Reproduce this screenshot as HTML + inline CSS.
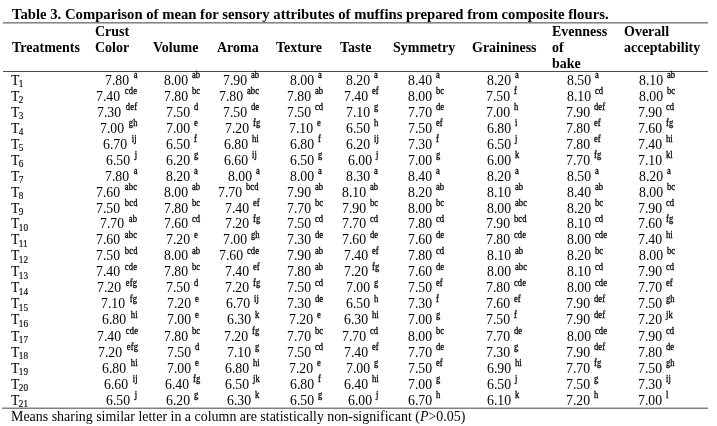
<!DOCTYPE html>
<html><head><meta charset="utf-8"><title>Table 3</title><style>
html,body{margin:0;padding:0;background:#fff;-webkit-font-smoothing:antialiased;}
body{filter:grayscale(1);}
body{width:717px;height:426px;overflow:hidden;position:relative;font-family:"Liberation Serif","Times New Roman",serif;color:#000;}
.c,.b{position:absolute;white-space:nowrap;line-height:1;transform-origin:0 0;}
.b{font-weight:bold;}
.c sup{display:inline-block;transform:scaleX(0.97);transform-origin:0 0;margin-left:0.6px;font-weight:normal;-webkit-text-stroke:0.3px;font-size:9.8px;letter-spacing:0.15px;vertical-align:baseline;position:relative;top:-7.0px;line-height:0;}
.sub{margin-left:-0.7px;-webkit-text-stroke:0.15px;font-size:10.2px;position:relative;top:2.0px;line-height:0;}
.r{position:absolute;left:2px;width:706px;}
</style></head>
<body>
<div class="b" style="left:11.60px;top:5.69px;font-size:15.3px;transform:scaleX(0.961)">Table 3. Comparison of mean for sensory attributes of muffins prepared from composite flours.</div>
<div class="r" style="left:3px;width:705px;top:22px;height:1px;background:#858585"></div>
<div class="r" style="left:3px;width:705px;top:23px;height:1px;background:#b8b8b8"></div>
<div class="r" style="left:3px;width:705px;top:71px;height:1px;background:#4c4c4c"></div>
<div class="r" style="top:407px;height:1px;background:#c0c0c0"></div>
<div class="r" style="top:408px;height:1px;background:#808080"></div>
<div class="b" style="left:12.00px;top:39.09px;font-size:15.3px;transform:scaleX(0.915)">Treatments</div>
<div class="b" style="left:95.30px;top:22.99px;font-size:15.3px;transform:scaleX(0.915)">Crust</div>
<div class="b" style="left:95.30px;top:39.09px;font-size:15.3px;transform:scaleX(0.915)">Color</div>
<div class="b" style="left:153.00px;top:39.09px;font-size:15.3px;transform:scaleX(0.915)">Volume</div>
<div class="b" style="left:216.60px;top:39.09px;font-size:15.3px;transform:scaleX(0.915)">Aroma</div>
<div class="b" style="left:276.30px;top:39.09px;font-size:15.3px;transform:scaleX(0.915)">Texture</div>
<div class="b" style="left:339.80px;top:39.09px;font-size:15.3px;transform:scaleX(0.915)">Taste</div>
<div class="b" style="left:393.20px;top:39.09px;font-size:15.3px;transform:scaleX(0.915)">Symmetry</div>
<div class="b" style="left:471.80px;top:39.09px;font-size:15.3px;transform:scaleX(0.915)">Graininess</div>
<div class="b" style="left:552.30px;top:22.99px;font-size:15.3px;transform:scaleX(0.915)">Evenness</div>
<div class="b" style="left:552.30px;top:39.09px;font-size:15.3px;transform:scaleX(0.915)">of</div>
<div class="b" style="left:552.30px;top:55.09px;font-size:15.3px;transform:scaleX(0.915)">bake</div>
<div class="b" style="left:623.50px;top:22.99px;font-size:15.3px;transform:scaleX(0.915)">Overall</div>
<div class="b" style="left:623.50px;top:39.09px;font-size:15.3px;transform:scaleX(0.915)">acceptability</div>
<div class="c" style="left:10.75px;top:72.19px;font-size:15.3px;transform:scaleX(0.9)">T<span class="sub">1</span></div>
<div class="c" style="left:10.75px;top:88.19px;font-size:15.3px;transform:scaleX(0.9)">T<span class="sub">2</span></div>
<div class="c" style="left:10.75px;top:104.19px;font-size:15.3px;transform:scaleX(0.9)">T<span class="sub">3</span></div>
<div class="c" style="left:10.75px;top:120.19px;font-size:15.3px;transform:scaleX(0.9)">T<span class="sub">4</span></div>
<div class="c" style="left:10.75px;top:136.19px;font-size:15.3px;transform:scaleX(0.9)">T<span class="sub">5</span></div>
<div class="c" style="left:10.75px;top:152.19px;font-size:15.3px;transform:scaleX(0.9)">T<span class="sub">6</span></div>
<div class="c" style="left:10.75px;top:168.19px;font-size:15.3px;transform:scaleX(0.9)">T<span class="sub">7</span></div>
<div class="c" style="left:10.75px;top:184.19px;font-size:15.3px;transform:scaleX(0.9)">T<span class="sub">8</span></div>
<div class="c" style="left:10.75px;top:200.19px;font-size:15.3px;transform:scaleX(0.9)">T<span class="sub">9</span></div>
<div class="c" style="left:10.75px;top:214.99px;font-size:15.3px;transform:scaleX(0.9)">T<span class="sub" style="top:3.20px">10</span></div>
<div class="c" style="left:10.75px;top:230.99px;font-size:15.3px;transform:scaleX(0.9)">T<span class="sub" style="top:3.20px">11</span></div>
<div class="c" style="left:10.75px;top:247.09px;font-size:15.3px;transform:scaleX(0.9)">T<span class="sub" style="top:3.10px">12</span></div>
<div class="c" style="left:10.75px;top:262.69px;font-size:15.3px;transform:scaleX(0.9)">T<span class="sub" style="top:3.50px">13</span></div>
<div class="c" style="left:10.75px;top:278.69px;font-size:15.3px;transform:scaleX(0.9)">T<span class="sub" style="top:3.50px">14</span></div>
<div class="c" style="left:10.75px;top:295.09px;font-size:15.3px;transform:scaleX(0.9)">T<span class="sub" style="top:3.10px">15</span></div>
<div class="c" style="left:10.75px;top:310.89px;font-size:15.3px;transform:scaleX(0.9)">T<span class="sub" style="top:3.30px">16</span></div>
<div class="c" style="left:10.75px;top:328.09px;font-size:15.3px;transform:scaleX(0.9)">T<span class="sub" style="top:2.10px">17</span></div>
<div class="c" style="left:10.75px;top:344.09px;font-size:15.3px;transform:scaleX(0.9)">T<span class="sub" style="top:2.10px">18</span></div>
<div class="c" style="left:10.75px;top:360.09px;font-size:15.3px;transform:scaleX(0.9)">T<span class="sub" style="top:2.10px">19</span></div>
<div class="c" style="left:10.75px;top:376.09px;font-size:15.3px;transform:scaleX(0.9)">T<span class="sub" style="top:2.10px">20</span></div>
<div class="c" style="left:10.75px;top:391.79px;font-size:15.3px;transform:scaleX(0.9)">T<span class="sub" style="top:2.40px">21</span></div>
<div class="c" style="left:104.59px;top:72.19px;font-size:15.3px;transform:scaleX(0.9)">7.80 <sup style="margin-left:1.4px">a</sup></div>
<div class="c" style="left:163.88px;top:72.19px;font-size:15.3px;transform:scaleX(0.9)">8.00 <sup>ab</sup></div>
<div class="c" style="left:223.39px;top:72.19px;font-size:15.3px;transform:scaleX(0.9)">7.90 <sup>ab</sup></div>
<div class="c" style="left:289.58px;top:72.19px;font-size:15.3px;transform:scaleX(0.9)">8.00 <sup>a</sup></div>
<div class="c" style="left:346.48px;top:72.19px;font-size:15.3px;transform:scaleX(0.9)">8.20 <sup>a</sup></div>
<div class="c" style="left:408.48px;top:72.19px;font-size:15.3px;transform:scaleX(0.9)">8.40 <sup>a</sup></div>
<div class="c" style="left:486.58px;top:72.19px;font-size:15.3px;transform:scaleX(0.9)">8.20 <sup>a</sup></div>
<div class="c" style="left:566.58px;top:72.19px;font-size:15.3px;transform:scaleX(0.9)">8.50 <sup>a</sup></div>
<div class="c" style="left:638.78px;top:72.19px;font-size:15.3px;transform:scaleX(0.9)">8.10 <sup>ab</sup></div>
<div class="c" style="left:96.29px;top:88.19px;font-size:15.3px;transform:scaleX(0.9)">7.40 <sup style="margin-left:1.4px">cde</sup></div>
<div class="c" style="left:163.99px;top:88.19px;font-size:15.3px;transform:scaleX(0.9)">7.80 <sup>bc</sup></div>
<div class="c" style="left:219.49px;top:88.19px;font-size:15.3px;transform:scaleX(0.9)">7.80 <sup>abc</sup></div>
<div class="c" style="left:286.69px;top:88.19px;font-size:15.3px;transform:scaleX(0.9)">7.80 <sup>ab</sup></div>
<div class="c" style="left:343.99px;top:88.19px;font-size:15.3px;transform:scaleX(0.9)">7.40 <sup>ef</sup></div>
<div class="c" style="left:408.48px;top:88.19px;font-size:15.3px;transform:scaleX(0.9)">8.00 <sup>bc</sup></div>
<div class="c" style="left:486.19px;top:88.19px;font-size:15.3px;transform:scaleX(0.9)">7.50 <sup>f</sup></div>
<div class="c" style="left:566.58px;top:88.19px;font-size:15.3px;transform:scaleX(0.9)">8.10 <sup>cd</sup></div>
<div class="c" style="left:638.78px;top:88.19px;font-size:15.3px;transform:scaleX(0.9)">8.00 <sup>bc</sup></div>
<div class="c" style="left:96.79px;top:104.19px;font-size:15.3px;transform:scaleX(0.9)">7.30 <sup style="margin-left:1.4px">def</sup></div>
<div class="c" style="left:166.09px;top:104.19px;font-size:15.3px;transform:scaleX(0.9)">7.50 <sup>d</sup></div>
<div class="c" style="left:223.39px;top:104.19px;font-size:15.3px;transform:scaleX(0.9)">7.50 <sup>de</sup></div>
<div class="c" style="left:286.69px;top:104.19px;font-size:15.3px;transform:scaleX(0.9)">7.50 <sup>cd</sup></div>
<div class="c" style="left:346.09px;top:104.19px;font-size:15.3px;transform:scaleX(0.9)">7.10 <sup>g</sup></div>
<div class="c" style="left:408.09px;top:104.19px;font-size:15.3px;transform:scaleX(0.9)">7.70 <sup>de</sup></div>
<div class="c" style="left:486.19px;top:104.19px;font-size:15.3px;transform:scaleX(0.9)">7.00 <sup>h</sup></div>
<div class="c" style="left:566.19px;top:104.19px;font-size:15.3px;transform:scaleX(0.9)">7.90 <sup>def</sup></div>
<div class="c" style="left:638.39px;top:104.19px;font-size:15.3px;transform:scaleX(0.9)">7.90 <sup>cd</sup></div>
<div class="c" style="left:99.89px;top:120.19px;font-size:15.3px;transform:scaleX(0.9)">7.00 <sup style="margin-left:1.4px">gh</sup></div>
<div class="c" style="left:166.09px;top:120.19px;font-size:15.3px;transform:scaleX(0.9)">7.00 <sup>e</sup></div>
<div class="c" style="left:224.69px;top:120.19px;font-size:15.3px;transform:scaleX(0.9)">7.20 <sup>fg</sup></div>
<div class="c" style="left:289.19px;top:120.19px;font-size:15.3px;transform:scaleX(0.9)">7.10 <sup>e</sup></div>
<div class="c" style="left:346.41px;top:120.19px;font-size:15.3px;transform:scaleX(0.9)">6.50 <sup>h</sup></div>
<div class="c" style="left:408.09px;top:120.19px;font-size:15.3px;transform:scaleX(0.9)">7.50 <sup>ef</sup></div>
<div class="c" style="left:486.51px;top:120.19px;font-size:15.3px;transform:scaleX(0.9)">6.80 <sup>i</sup></div>
<div class="c" style="left:566.19px;top:120.19px;font-size:15.3px;transform:scaleX(0.9)">7.80 <sup>ef</sup></div>
<div class="c" style="left:638.39px;top:120.19px;font-size:15.3px;transform:scaleX(0.9)">7.60 <sup>fg</sup></div>
<div class="c" style="left:102.81px;top:136.19px;font-size:15.3px;transform:scaleX(0.9)">6.70 <sup style="margin-left:1.4px">ij</sup></div>
<div class="c" style="left:166.41px;top:136.19px;font-size:15.3px;transform:scaleX(0.9)">6.50 <sup>f</sup></div>
<div class="c" style="left:224.21px;top:136.19px;font-size:15.3px;transform:scaleX(0.9)">6.80 <sup>hi</sup></div>
<div class="c" style="left:289.51px;top:136.19px;font-size:15.3px;transform:scaleX(0.9)">6.80 <sup>f</sup></div>
<div class="c" style="left:345.61px;top:136.19px;font-size:15.3px;transform:scaleX(0.9)">6.20 <sup>ij</sup></div>
<div class="c" style="left:408.09px;top:136.19px;font-size:15.3px;transform:scaleX(0.9)">7.30 <sup>f</sup></div>
<div class="c" style="left:486.51px;top:136.19px;font-size:15.3px;transform:scaleX(0.9)">6.50 <sup>j</sup></div>
<div class="c" style="left:566.19px;top:136.19px;font-size:15.3px;transform:scaleX(0.9)">7.80 <sup>ef</sup></div>
<div class="c" style="left:638.39px;top:136.19px;font-size:15.3px;transform:scaleX(0.9)">7.40 <sup>hi</sup></div>
<div class="c" style="left:106.21px;top:152.19px;font-size:15.3px;transform:scaleX(0.9)">6.50 <sup style="margin-left:1.4px">j</sup></div>
<div class="c" style="left:166.41px;top:152.19px;font-size:15.3px;transform:scaleX(0.9)">6.20 <sup>g</sup></div>
<div class="c" style="left:224.21px;top:152.19px;font-size:15.3px;transform:scaleX(0.9)">6.60 <sup>ij</sup></div>
<div class="c" style="left:289.51px;top:152.19px;font-size:15.3px;transform:scaleX(0.9)">6.50 <sup>g</sup></div>
<div class="c" style="left:347.71px;top:152.19px;font-size:15.3px;transform:scaleX(0.9)">6.00 <sup>j</sup></div>
<div class="c" style="left:408.09px;top:152.19px;font-size:15.3px;transform:scaleX(0.9)">7.00 <sup>g</sup></div>
<div class="c" style="left:486.51px;top:152.19px;font-size:15.3px;transform:scaleX(0.9)">6.00 <sup>k</sup></div>
<div class="c" style="left:566.19px;top:152.19px;font-size:15.3px;transform:scaleX(0.9)">7.70 <sup>fg</sup></div>
<div class="c" style="left:638.39px;top:152.19px;font-size:15.3px;transform:scaleX(0.9)">7.10 <sup>kl</sup></div>
<div class="c" style="left:104.59px;top:168.19px;font-size:15.3px;transform:scaleX(0.9)">7.80 <sup style="margin-left:1.4px">a</sup></div>
<div class="c" style="left:166.48px;top:168.19px;font-size:15.3px;transform:scaleX(0.9)">8.20 <sup>a</sup></div>
<div class="c" style="left:227.68px;top:168.19px;font-size:15.3px;transform:scaleX(0.9)">8.00 <sup>a</sup></div>
<div class="c" style="left:289.58px;top:168.19px;font-size:15.3px;transform:scaleX(0.9)">8.00 <sup>a</sup></div>
<div class="c" style="left:346.48px;top:168.19px;font-size:15.3px;transform:scaleX(0.9)">8.30 <sup>a</sup></div>
<div class="c" style="left:408.48px;top:168.19px;font-size:15.3px;transform:scaleX(0.9)">8.40 <sup>a</sup></div>
<div class="c" style="left:486.58px;top:168.19px;font-size:15.3px;transform:scaleX(0.9)">8.20 <sup>a</sup></div>
<div class="c" style="left:566.58px;top:168.19px;font-size:15.3px;transform:scaleX(0.9)">8.50 <sup>a</sup></div>
<div class="c" style="left:638.78px;top:168.19px;font-size:15.3px;transform:scaleX(0.9)">8.20 <sup>a</sup></div>
<div class="c" style="left:95.59px;top:184.19px;font-size:15.3px;transform:scaleX(0.9)">7.60 <sup style="margin-left:1.4px">abc</sup></div>
<div class="c" style="left:163.88px;top:184.19px;font-size:15.3px;transform:scaleX(0.9)">8.00 <sup>ab</sup></div>
<div class="c" style="left:218.19px;top:184.19px;font-size:15.3px;transform:scaleX(0.9)">7.70 <sup>bcd</sup></div>
<div class="c" style="left:286.69px;top:184.19px;font-size:15.3px;transform:scaleX(0.9)">7.90 <sup>ab</sup></div>
<div class="c" style="left:342.28px;top:184.19px;font-size:15.3px;transform:scaleX(0.9)">8.10 <sup>ab</sup></div>
<div class="c" style="left:408.48px;top:184.19px;font-size:15.3px;transform:scaleX(0.9)">8.20 <sup>ab</sup></div>
<div class="c" style="left:486.58px;top:184.19px;font-size:15.3px;transform:scaleX(0.9)">8.10 <sup>ab</sup></div>
<div class="c" style="left:566.58px;top:184.19px;font-size:15.3px;transform:scaleX(0.9)">8.40 <sup>ab</sup></div>
<div class="c" style="left:638.78px;top:184.19px;font-size:15.3px;transform:scaleX(0.9)">8.00 <sup>bc</sup></div>
<div class="c" style="left:95.59px;top:200.19px;font-size:15.3px;transform:scaleX(0.9)">7.50 <sup style="margin-left:1.4px">bcd</sup></div>
<div class="c" style="left:163.99px;top:200.19px;font-size:15.3px;transform:scaleX(0.9)">7.80 <sup>bc</sup></div>
<div class="c" style="left:224.69px;top:200.19px;font-size:15.3px;transform:scaleX(0.9)">7.40 <sup>ef</sup></div>
<div class="c" style="left:286.69px;top:200.19px;font-size:15.3px;transform:scaleX(0.9)">7.70 <sup>bc</sup></div>
<div class="c" style="left:341.89px;top:200.19px;font-size:15.3px;transform:scaleX(0.9)">7.90 <sup>bc</sup></div>
<div class="c" style="left:408.48px;top:200.19px;font-size:15.3px;transform:scaleX(0.9)">8.00 <sup>bc</sup></div>
<div class="c" style="left:486.58px;top:200.19px;font-size:15.3px;transform:scaleX(0.9)">8.00 <sup>abc</sup></div>
<div class="c" style="left:566.58px;top:200.19px;font-size:15.3px;transform:scaleX(0.9)">8.20 <sup>bc</sup></div>
<div class="c" style="left:638.39px;top:200.19px;font-size:15.3px;transform:scaleX(0.9)">7.90 <sup>cd</sup></div>
<div class="c" style="left:99.89px;top:214.99px;font-size:15.3px;transform:scaleX(0.9)">7.70 <sup style="top:-5.80px;margin-left:1.4px">ab</sup></div>
<div class="c" style="left:163.99px;top:214.99px;font-size:15.3px;transform:scaleX(0.9)">7.60 <sup style="top:-5.80px">cd</sup></div>
<div class="c" style="left:224.69px;top:214.99px;font-size:15.3px;transform:scaleX(0.9)">7.20 <sup style="top:-5.80px">fg</sup></div>
<div class="c" style="left:286.69px;top:214.99px;font-size:15.3px;transform:scaleX(0.9)">7.50 <sup style="top:-5.80px">cd</sup></div>
<div class="c" style="left:341.89px;top:214.99px;font-size:15.3px;transform:scaleX(0.9)">7.70 <sup style="top:-5.80px">cd</sup></div>
<div class="c" style="left:408.09px;top:214.99px;font-size:15.3px;transform:scaleX(0.9)">7.80 <sup style="top:-5.80px">cd</sup></div>
<div class="c" style="left:486.19px;top:214.99px;font-size:15.3px;transform:scaleX(0.9)">7.90 <sup style="top:-5.80px">bcd</sup></div>
<div class="c" style="left:566.58px;top:214.99px;font-size:15.3px;transform:scaleX(0.9)">8.10 <sup style="top:-5.80px">cd</sup></div>
<div class="c" style="left:638.39px;top:214.99px;font-size:15.3px;transform:scaleX(0.9)">7.60 <sup style="top:-5.80px">fg</sup></div>
<div class="c" style="left:95.59px;top:230.99px;font-size:15.3px;transform:scaleX(0.9)">7.60 <sup style="top:-5.80px;margin-left:1.4px">abc</sup></div>
<div class="c" style="left:166.09px;top:230.99px;font-size:15.3px;transform:scaleX(0.9)">7.20 <sup style="top:-5.80px">e</sup></div>
<div class="c" style="left:222.89px;top:230.99px;font-size:15.3px;transform:scaleX(0.9)">7.00 <sup style="top:-5.80px">gh</sup></div>
<div class="c" style="left:286.69px;top:230.99px;font-size:15.3px;transform:scaleX(0.9)">7.30 <sup style="top:-5.80px">de</sup></div>
<div class="c" style="left:341.89px;top:230.99px;font-size:15.3px;transform:scaleX(0.9)">7.60 <sup style="top:-5.80px">de</sup></div>
<div class="c" style="left:408.09px;top:230.99px;font-size:15.3px;transform:scaleX(0.9)">7.60 <sup style="top:-5.80px">de</sup></div>
<div class="c" style="left:486.19px;top:230.99px;font-size:15.3px;transform:scaleX(0.9)">7.80 <sup style="top:-5.80px">cde</sup></div>
<div class="c" style="left:566.58px;top:230.99px;font-size:15.3px;transform:scaleX(0.9)">8.00 <sup style="top:-5.80px">cde</sup></div>
<div class="c" style="left:638.39px;top:230.99px;font-size:15.3px;transform:scaleX(0.9)">7.40 <sup style="top:-5.80px">hi</sup></div>
<div class="c" style="left:95.59px;top:247.09px;font-size:15.3px;transform:scaleX(0.9)">7.50 <sup style="top:-5.90px;margin-left:1.4px">bcd</sup></div>
<div class="c" style="left:163.88px;top:247.09px;font-size:15.3px;transform:scaleX(0.9)">8.00 <sup style="top:-5.90px">ab</sup></div>
<div class="c" style="left:218.99px;top:247.09px;font-size:15.3px;transform:scaleX(0.9)">7.60 <sup style="top:-5.90px">cde</sup></div>
<div class="c" style="left:286.69px;top:247.09px;font-size:15.3px;transform:scaleX(0.9)">7.90 <sup style="top:-5.90px">ab</sup></div>
<div class="c" style="left:343.99px;top:247.09px;font-size:15.3px;transform:scaleX(0.9)">7.40 <sup style="top:-5.90px">ef</sup></div>
<div class="c" style="left:408.09px;top:247.09px;font-size:15.3px;transform:scaleX(0.9)">7.80 <sup style="top:-5.90px">cd</sup></div>
<div class="c" style="left:486.58px;top:247.09px;font-size:15.3px;transform:scaleX(0.9)">8.10 <sup style="top:-5.90px">ab</sup></div>
<div class="c" style="left:566.58px;top:247.09px;font-size:15.3px;transform:scaleX(0.9)">8.20 <sup style="top:-5.90px">bc</sup></div>
<div class="c" style="left:638.78px;top:247.09px;font-size:15.3px;transform:scaleX(0.9)">8.00 <sup style="top:-5.90px">bc</sup></div>
<div class="c" style="left:95.59px;top:262.69px;font-size:15.3px;transform:scaleX(0.9)">7.40 <sup style="top:-5.50px;margin-left:1.4px">cde</sup></div>
<div class="c" style="left:163.99px;top:262.69px;font-size:15.3px;transform:scaleX(0.9)">7.80 <sup style="top:-5.50px">bc</sup></div>
<div class="c" style="left:224.69px;top:262.69px;font-size:15.3px;transform:scaleX(0.9)">7.40 <sup style="top:-5.50px">ef</sup></div>
<div class="c" style="left:286.69px;top:262.69px;font-size:15.3px;transform:scaleX(0.9)">7.80 <sup style="top:-5.50px">ab</sup></div>
<div class="c" style="left:343.99px;top:262.69px;font-size:15.3px;transform:scaleX(0.9)">7.20 <sup style="top:-5.50px">fg</sup></div>
<div class="c" style="left:408.09px;top:262.69px;font-size:15.3px;transform:scaleX(0.9)">7.60 <sup style="top:-5.50px">de</sup></div>
<div class="c" style="left:486.58px;top:262.69px;font-size:15.3px;transform:scaleX(0.9)">8.00 <sup style="top:-5.50px">abc</sup></div>
<div class="c" style="left:566.58px;top:262.69px;font-size:15.3px;transform:scaleX(0.9)">8.10 <sup style="top:-5.50px">cd</sup></div>
<div class="c" style="left:638.39px;top:262.69px;font-size:15.3px;transform:scaleX(0.9)">7.90 <sup style="top:-5.50px">cd</sup></div>
<div class="c" style="left:96.79px;top:278.69px;font-size:15.3px;transform:scaleX(0.9)">7.20 <sup style="top:-5.50px;margin-left:1.4px">efg</sup></div>
<div class="c" style="left:166.09px;top:278.69px;font-size:15.3px;transform:scaleX(0.9)">7.50 <sup style="top:-5.50px">d</sup></div>
<div class="c" style="left:224.69px;top:278.69px;font-size:15.3px;transform:scaleX(0.9)">7.20 <sup style="top:-5.50px">fg</sup></div>
<div class="c" style="left:286.69px;top:278.69px;font-size:15.3px;transform:scaleX(0.9)">7.50 <sup style="top:-5.50px">cd</sup></div>
<div class="c" style="left:346.09px;top:278.69px;font-size:15.3px;transform:scaleX(0.9)">7.00 <sup style="top:-5.50px">g</sup></div>
<div class="c" style="left:408.09px;top:278.69px;font-size:15.3px;transform:scaleX(0.9)">7.50 <sup style="top:-5.50px">ef</sup></div>
<div class="c" style="left:486.19px;top:278.69px;font-size:15.3px;transform:scaleX(0.9)">7.80 <sup style="top:-5.50px">cde</sup></div>
<div class="c" style="left:566.58px;top:278.69px;font-size:15.3px;transform:scaleX(0.9)">8.00 <sup style="top:-5.50px">cde</sup></div>
<div class="c" style="left:638.39px;top:278.69px;font-size:15.3px;transform:scaleX(0.9)">7.70 <sup style="top:-5.50px">ef</sup></div>
<div class="c" style="left:101.39px;top:295.09px;font-size:15.3px;transform:scaleX(0.9)">7.10 <sup style="top:-5.90px;margin-left:1.4px">fg</sup></div>
<div class="c" style="left:166.69px;top:295.09px;font-size:15.3px;transform:scaleX(0.9)">7.20 <sup style="top:-5.90px">e</sup></div>
<div class="c" style="left:226.41px;top:295.09px;font-size:15.3px;transform:scaleX(0.9)">6.70 <sup style="top:-5.90px">ij</sup></div>
<div class="c" style="left:286.79px;top:295.09px;font-size:15.3px;transform:scaleX(0.9)">7.30 <sup style="top:-5.90px">de</sup></div>
<div class="c" style="left:345.71px;top:295.09px;font-size:15.3px;transform:scaleX(0.9)">6.50 <sup style="top:-5.90px">h</sup></div>
<div class="c" style="left:408.09px;top:295.09px;font-size:15.3px;transform:scaleX(0.9)">7.30 <sup style="top:-5.90px">f</sup></div>
<div class="c" style="left:486.19px;top:295.09px;font-size:15.3px;transform:scaleX(0.9)">7.60 <sup style="top:-5.90px">ef</sup></div>
<div class="c" style="left:566.19px;top:295.09px;font-size:15.3px;transform:scaleX(0.9)">7.90 <sup style="top:-5.90px">def</sup></div>
<div class="c" style="left:638.39px;top:295.09px;font-size:15.3px;transform:scaleX(0.9)">7.50 <sup style="top:-5.90px">gh</sup></div>
<div class="c" style="left:101.71px;top:310.89px;font-size:15.3px;transform:scaleX(0.9)">6.80 <sup style="top:-5.70px;margin-left:1.4px">hi</sup></div>
<div class="c" style="left:166.69px;top:310.89px;font-size:15.3px;transform:scaleX(0.9)">7.00 <sup style="top:-5.70px">e</sup></div>
<div class="c" style="left:226.91px;top:310.89px;font-size:15.3px;transform:scaleX(0.9)">6.30 <sup style="top:-5.70px">k</sup></div>
<div class="c" style="left:289.49px;top:310.89px;font-size:15.3px;transform:scaleX(0.9)">7.20 <sup style="top:-5.70px">e</sup></div>
<div class="c" style="left:343.51px;top:310.89px;font-size:15.3px;transform:scaleX(0.9)">6.30 <sup style="top:-5.70px">hi</sup></div>
<div class="c" style="left:408.09px;top:310.89px;font-size:15.3px;transform:scaleX(0.9)">7.00 <sup style="top:-5.70px">g</sup></div>
<div class="c" style="left:486.19px;top:310.89px;font-size:15.3px;transform:scaleX(0.9)">7.50 <sup style="top:-5.70px">f</sup></div>
<div class="c" style="left:566.19px;top:310.89px;font-size:15.3px;transform:scaleX(0.9)">7.90 <sup style="top:-5.70px">def</sup></div>
<div class="c" style="left:638.39px;top:310.89px;font-size:15.3px;transform:scaleX(0.9)">7.20 <sup style="top:-5.70px">jk</sup></div>
<div class="c" style="left:96.69px;top:328.09px;font-size:15.3px;transform:scaleX(0.9)">7.40 <sup style="top:-6.90px;margin-left:1.4px">cde</sup></div>
<div class="c" style="left:163.99px;top:328.09px;font-size:15.3px;transform:scaleX(0.9)">7.80 <sup style="top:-6.90px">bc</sup></div>
<div class="c" style="left:224.39px;top:328.09px;font-size:15.3px;transform:scaleX(0.9)">7.20 <sup style="top:-6.90px">fg</sup></div>
<div class="c" style="left:286.79px;top:328.09px;font-size:15.3px;transform:scaleX(0.9)">7.70 <sup style="top:-6.90px">bc</sup></div>
<div class="c" style="left:342.09px;top:328.09px;font-size:15.3px;transform:scaleX(0.9)">7.70 <sup style="top:-6.90px">cd</sup></div>
<div class="c" style="left:408.48px;top:328.09px;font-size:15.3px;transform:scaleX(0.9)">8.00 <sup style="top:-6.90px">bc</sup></div>
<div class="c" style="left:486.19px;top:328.09px;font-size:15.3px;transform:scaleX(0.9)">7.70 <sup style="top:-6.90px">de</sup></div>
<div class="c" style="left:566.58px;top:328.09px;font-size:15.3px;transform:scaleX(0.9)">8.00 <sup style="top:-6.90px">cde</sup></div>
<div class="c" style="left:638.39px;top:328.09px;font-size:15.3px;transform:scaleX(0.9)">7.90 <sup style="top:-6.90px">cd</sup></div>
<div class="c" style="left:97.79px;top:344.09px;font-size:15.3px;transform:scaleX(0.9)">7.20 <sup style="top:-6.90px;margin-left:1.4px">efg</sup></div>
<div class="c" style="left:166.69px;top:344.09px;font-size:15.3px;transform:scaleX(0.9)">7.50 <sup style="top:-6.90px">d</sup></div>
<div class="c" style="left:226.59px;top:344.09px;font-size:15.3px;transform:scaleX(0.9)">7.10 <sup style="top:-6.90px">g</sup></div>
<div class="c" style="left:286.79px;top:344.09px;font-size:15.3px;transform:scaleX(0.9)">7.50 <sup style="top:-6.90px">cd</sup></div>
<div class="c" style="left:343.99px;top:344.09px;font-size:15.3px;transform:scaleX(0.9)">7.40 <sup style="top:-6.90px">ef</sup></div>
<div class="c" style="left:408.09px;top:344.09px;font-size:15.3px;transform:scaleX(0.9)">7.70 <sup style="top:-6.90px">de</sup></div>
<div class="c" style="left:486.19px;top:344.09px;font-size:15.3px;transform:scaleX(0.9)">7.30 <sup style="top:-6.90px">g</sup></div>
<div class="c" style="left:566.19px;top:344.09px;font-size:15.3px;transform:scaleX(0.9)">7.90 <sup style="top:-6.90px">def</sup></div>
<div class="c" style="left:638.39px;top:344.09px;font-size:15.3px;transform:scaleX(0.9)">7.80 <sup style="top:-6.90px">de</sup></div>
<div class="c" style="left:101.71px;top:360.09px;font-size:15.3px;transform:scaleX(0.9)">6.80 <sup style="top:-6.90px;margin-left:1.4px">hi</sup></div>
<div class="c" style="left:166.69px;top:360.09px;font-size:15.3px;transform:scaleX(0.9)">7.00 <sup style="top:-6.90px">e</sup></div>
<div class="c" style="left:224.71px;top:360.09px;font-size:15.3px;transform:scaleX(0.9)">6.80 <sup style="top:-6.90px">hi</sup></div>
<div class="c" style="left:289.49px;top:360.09px;font-size:15.3px;transform:scaleX(0.9)">7.20 <sup style="top:-6.90px">e</sup></div>
<div class="c" style="left:345.89px;top:360.09px;font-size:15.3px;transform:scaleX(0.9)">7.00 <sup style="top:-6.90px">g</sup></div>
<div class="c" style="left:408.09px;top:360.09px;font-size:15.3px;transform:scaleX(0.9)">7.50 <sup style="top:-6.90px">ef</sup></div>
<div class="c" style="left:486.51px;top:360.09px;font-size:15.3px;transform:scaleX(0.9)">6.90 <sup style="top:-6.90px">hi</sup></div>
<div class="c" style="left:566.19px;top:360.09px;font-size:15.3px;transform:scaleX(0.9)">7.70 <sup style="top:-6.90px">fg</sup></div>
<div class="c" style="left:638.39px;top:360.09px;font-size:15.3px;transform:scaleX(0.9)">7.50 <sup style="top:-6.90px">gh</sup></div>
<div class="c" style="left:103.61px;top:376.09px;font-size:15.3px;transform:scaleX(0.9)">6.60 <sup style="top:-6.90px;margin-left:1.4px">ij</sup></div>
<div class="c" style="left:165.11px;top:376.09px;font-size:15.3px;transform:scaleX(0.9)">6.40 <sup style="top:-6.90px">fg</sup></div>
<div class="c" style="left:224.71px;top:376.09px;font-size:15.3px;transform:scaleX(0.9)">6.50 <sup style="top:-6.90px">jk</sup></div>
<div class="c" style="left:289.81px;top:376.09px;font-size:15.3px;transform:scaleX(0.9)">6.80 <sup style="top:-6.90px">f</sup></div>
<div class="c" style="left:343.51px;top:376.09px;font-size:15.3px;transform:scaleX(0.9)">6.40 <sup style="top:-6.90px">hi</sup></div>
<div class="c" style="left:408.09px;top:376.09px;font-size:15.3px;transform:scaleX(0.9)">7.00 <sup style="top:-6.90px">g</sup></div>
<div class="c" style="left:486.51px;top:376.09px;font-size:15.3px;transform:scaleX(0.9)">6.50 <sup style="top:-6.90px">j</sup></div>
<div class="c" style="left:566.19px;top:376.09px;font-size:15.3px;transform:scaleX(0.9)">7.50 <sup style="top:-6.90px">g</sup></div>
<div class="c" style="left:638.39px;top:376.09px;font-size:15.3px;transform:scaleX(0.9)">7.30 <sup style="top:-6.90px">ij</sup></div>
<div class="c" style="left:105.71px;top:391.79px;font-size:15.3px;transform:scaleX(0.9)">6.50 <sup style="top:-6.60px;margin-left:1.4px">j</sup></div>
<div class="c" style="left:166.21px;top:391.79px;font-size:15.3px;transform:scaleX(0.9)">6.20 <sup style="top:-6.60px">g</sup></div>
<div class="c" style="left:226.91px;top:391.79px;font-size:15.3px;transform:scaleX(0.9)">6.30 <sup style="top:-6.60px">k</sup></div>
<div class="c" style="left:289.81px;top:391.79px;font-size:15.3px;transform:scaleX(0.9)">6.50 <sup style="top:-6.60px">g</sup></div>
<div class="c" style="left:348.41px;top:391.79px;font-size:15.3px;transform:scaleX(0.9)">6.00 <sup style="top:-6.60px">j</sup></div>
<div class="c" style="left:408.41px;top:391.79px;font-size:15.3px;transform:scaleX(0.9)">6.70 <sup style="top:-6.60px">h</sup></div>
<div class="c" style="left:486.51px;top:391.79px;font-size:15.3px;transform:scaleX(0.9)">6.10 <sup style="top:-6.60px">k</sup></div>
<div class="c" style="left:566.19px;top:391.79px;font-size:15.3px;transform:scaleX(0.9)">7.20 <sup style="top:-6.60px">h</sup></div>
<div class="c" style="left:638.39px;top:391.79px;font-size:15.3px;transform:scaleX(0.9)">7.00 <sup style="top:-6.60px">l</sup></div>
<div class="c" style="left:10.80px;top:408.09px;font-size:15.3px;transform:scaleX(0.9115)">Means sharing similar letter in a column are statistically non-significant (<i>P</i>&gt;0.05)</div>
</body></html>
